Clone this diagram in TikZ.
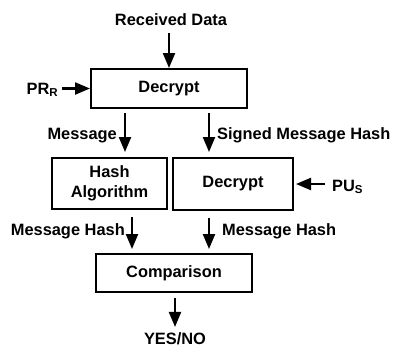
\documentclass[tikz,border=0pt]{standalone}
\usepackage{fontspec}
\setmainfont{Liberation Sans}
\usetikzlibrary{arrows.meta}
\begin{document}
\begin{tikzpicture}[x=1pt,y=-1pt,
  lbl/.style={font=\bfseries\fontsize{16.4}{20}\selectfont, inner sep=0pt},
  box/.style={draw, line width=2pt, inner sep=0pt, align=center,
    font=\bfseries\fontsize{16.4}{20}\selectfont},
  arr/.style={line width=2.2pt, -{Triangle[length=15pt,width=12pt]}}]
\useasboundingbox (0,0) rectangle (393,349);
\newcommand{\subs}[1]{\raisebox{-2pt}{\fontsize{11.5}{11.5}\selectfont #1}}

% processing blocks
\node[box, minimum width=156pt, minimum height=39pt] (dec1) at (169,88.5) {Decrypt};
\node[box, minimum width=115pt, minimum height=51pt] (hash) at (109.5,183.5) {Hash\\Algorithm};
\node[box, minimum width=120pt, minimum height=52pt] (dec2) at (233,184) {Decrypt};
\node[box, minimum width=156pt, minimum height=38pt] (cmp) at (174,273) {Comparison};

% inputs, outputs and labels
\node[lbl, anchor=base] (rd) at (171,25) {Received Data};
\node[lbl, anchor=base east] (prr) at (58,94) {PR\subs{R}};
\node[lbl, anchor=base west] (pus) at (332,191) {PU\subs{S}};
\node[lbl, anchor=base east] (msg) at (117,139) {Message};
\node[lbl, anchor=base west] (smh) at (217,139) {Signed Message Hash};
\node[lbl, anchor=base east] (mh1) at (125,235) {Message Hash};
\node[lbl, anchor=base west] (mh2) at (222,235) {Message Hash};
\node[lbl, anchor=base] (yn) at (175,344) {YES/NO};

% data flow
\draw[arr, shorten <=8pt] (rd.south -| dec1.north) -- (dec1.north);
\draw[arr, shorten <=4pt] (prr.east |- dec1.west) -- (dec1.west);
\draw[arr, shorten <=4pt, shorten >=5pt] (dec1.south -| 125,0) -- (hash.north -| 125,0);
\draw[arr, shorten <=4pt, shorten >=5pt] (dec1.south -| 209,0) -- (dec2.north -| 209,0);
\draw[arr, shorten <=7pt, shorten >=2pt] (pus.west |- dec2.east) -- (dec2.east);
\draw[arr, shorten <=7pt, shorten >=4pt] (hash.south -| 132,0) -- (cmp.north -| 132,0);
\draw[arr, shorten <=7pt, shorten >=4pt] (dec2.south -| 209,0) -- (cmp.north -| 209,0);
\draw[arr, shorten <=5pt, shorten >=5pt] (cmp.south -| 175,0) -- (yn.north -| 175,0);
\end{tikzpicture}
\end{document}
